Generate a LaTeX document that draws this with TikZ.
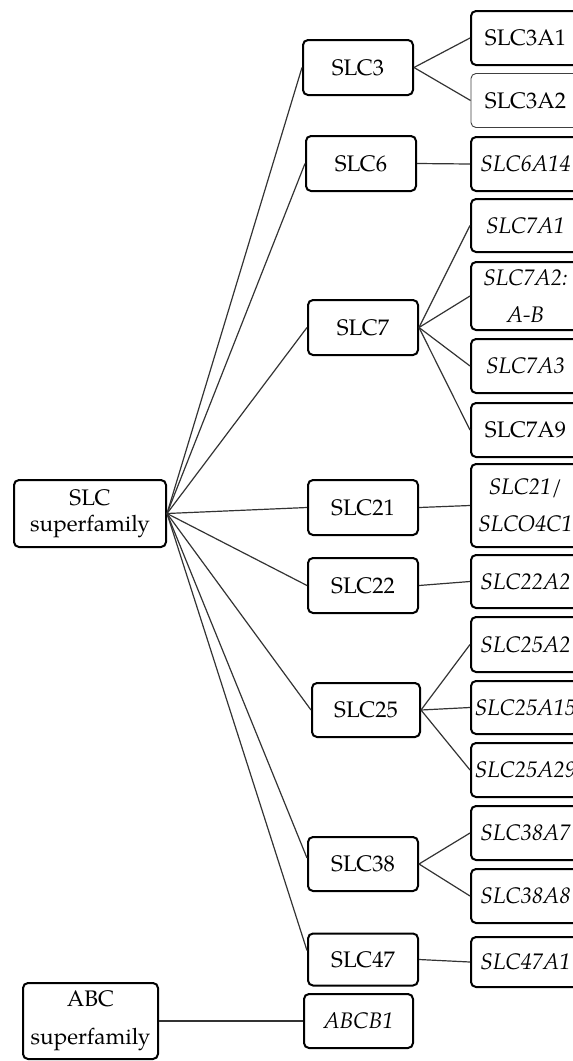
\documentclass[tikz,border=0pt]{standalone}
\usepackage{fontspec}
\setmainfont{TeX Gyre Pagella}
\begin{document}
\begin{tikzpicture}[x=1pt,y=-1pt,
  box/.style={draw=black, line width=2pt, rounded corners=5pt, fill=white,
    inner sep=0pt, align=center, font=\fontsize{22.5}{26}\selectfont},
  lbox/.style={box, minimum width=110pt, minimum height=55pt},
  rbox/.style={box, minimum width=109pt, minimum height=54pt},
  thinbox/.style={draw=black!75, line width=0.9pt},
  link/.style={draw=black!80, line width=1.2pt}]
\useasboundingbox (0,0) rectangle (573,1061);
% root nodes
\node[box, minimum width=152pt, minimum height=67pt] (slc) at (90,513.5) {SLC\\superfamily};
\node[box, minimum width=135pt, minimum height=76pt] (abc) at (90.5,1021) {ABC\\[12pt]superfamily};
% second level
\node[lbox] (s3)  at (358,67.5) {SLC3};
\node[lbox] (s6)  at (361,163.5) {SLC6};
\node[lbox] (s7)  at (363,327.5) {SLC7};
\node[lbox] (s21) at (363,507.5) {SLC21};
\node[lbox] (s22) at (363,585.5) {SLC22};
\node[lbox, minimum width=108pt, minimum height=54pt] (s25) at (366,710) {SLC25};
\node[lbox, minimum height=54pt] (s38) at (363,864) {SLC38};
\node[lbox, minimum height=52pt] (s47) at (363,959.5) {SLC47};
\node[lbox, minimum width=109pt, minimum height=54pt] (abcb) at (358.5,1021) {\itshape ABCB1};
% third level
\node[rbox] (a31) at (525.5,38) {SLC3A1};
\node[rbox, thinbox] (a32) at (525.5,100.5) {SLC3A2};
\node[rbox] (a614) at (525.5,164) {\itshape SLC6A14};
\node[rbox, minimum height=53pt] (a71) at (525.5,225.5) {\itshape SLC7A1};
\node[rbox, minimum height=68pt] (a72) at (525.5,296) {\itshape SLC7A2:\\[11pt]\itshape A-B};
\node[rbox] (a73) at (525.5,366) {\itshape SLC7A3};
\node[rbox] (a79) at (525.5,430) {SLC7A9};
\node[rbox, minimum height=83pt] (a21) at (525.5,505.5) {\itshape SLC21/\\[11pt]\itshape SLCO4C1};
\node[rbox, minimum height=53pt] (a22) at (525.5,581.5) {\itshape SLC22A2};
\node[rbox, minimum height=55pt] (a252) at (525.5,644.5) {\itshape SLC25A2};
\node[rbox, minimum height=53pt] (a2515) at (525.5,707.5) {\itshape SLC25A15};
\node[rbox] (a2529) at (525.5,770) {\itshape SLC25A29};
\node[rbox] (a387) at (525.5,833) {\itshape SLC38A7};
\node[rbox] (a388) at (525.5,896) {\itshape SLC38A8};
\node[rbox, minimum height=50pt] (a47) at (525.5,962) {\itshape SLC47A1};
% links from SLC superfamily
\draw[link] (slc.east) -- (s3.west);
\draw[link] (slc.east) -- (s6.west);
\draw[link] (slc.east) -- (s7.west);
\draw[link] (slc.east) -- (s21.west);
\draw[link] (slc.east) -- (s22.west);
\draw[link] (slc.east) -- (s25.west);
\draw[link] (slc.east) -- ([yshift=6pt]s38.west);
\draw[link] (slc.east) -- ([yshift=9pt]s47.west);
\draw[link] (abc.east) -- (abcb.west);
% links to third level
\draw[link] (s3.east) -- (a31.west);
\draw[link] (s3.east) -- (a32.west);
\draw[link] (s6.east) -- (a614.west);
\draw[link] (s7.east) -- (a71.west);
\draw[link] (s7.east) -- (a72.west);
\draw[link] (s7.east) -- (a73.west);
\draw[link] (s7.east) -- (a79.west);
\draw[link] (s21.east) -- (a21.west);
\draw[link] (s22.east) -- (a22.west);
\draw[link] (s25.east) -- (a252.west);
\draw[link] (s25.east) -- (a2515.west);
\draw[link] (s25.east) -- (a2529.west);
\draw[link] (s38.east) -- (a387.west);
\draw[link] (s38.east) -- (a388.west);
\draw[link] (s47.east) -- (a47.west);
\end{tikzpicture}
\end{document}
